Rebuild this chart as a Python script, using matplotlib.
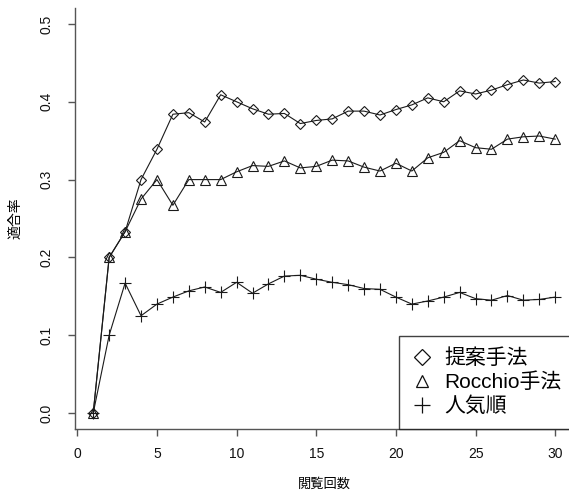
import matplotlib
matplotlib.use("Agg")
import matplotlib.pyplot as plt
from matplotlib.lines import Line2D
import numpy as np

# browsing count on the x axis
views = np.arange(1, 31)

# precision per method
proposed = [0.000, 0.200, 0.233, 0.300, 0.339, 0.384, 0.386, 0.374, 0.409, 0.400,
            0.391, 0.384, 0.385, 0.372, 0.376, 0.378, 0.388, 0.388, 0.383, 0.390,
            0.396, 0.405, 0.400, 0.414, 0.410, 0.415, 0.422, 0.428, 0.424, 0.426]
rocchio = [0.000, 0.200, 0.233, 0.275, 0.300, 0.267, 0.300, 0.300, 0.300, 0.310,
           0.318, 0.317, 0.324, 0.315, 0.317, 0.325, 0.324, 0.316, 0.311, 0.321,
           0.311, 0.328, 0.335, 0.350, 0.341, 0.339, 0.352, 0.355, 0.356, 0.352]
popular = [0.000, 0.100, 0.167, 0.125, 0.140, 0.149, 0.157, 0.162, 0.155, 0.168,
           0.154, 0.166, 0.176, 0.177, 0.172, 0.168, 0.165, 0.160, 0.159, 0.149,
           0.140, 0.144, 0.149, 0.155, 0.147, 0.145, 0.151, 0.145, 0.146, 0.149]

labels = ["提案手法", "Rocchio手法", "人気順"]
markers = ["D", "^", "+"]
x_ticks = [0, 5, 10, 15, 20, 25, 30]
y_ticks = [0.0, 0.1, 0.2, 0.3, 0.4, 0.5]

plt.rcParams["font.family"] = ["Liberation Sans", "Noto Sans CJK JP", "DejaVu Sans"]

W, H = 569, 499
fig = plt.figure(figsize=(W / 100, H / 100), dpi=100, facecolor="white")

# plot region in pixels (right edge runs past the image, as in the reference)
px_left, px_right = 74.75, 573.7
px_top, px_bottom = 8.4, 428.6
ax = fig.add_axes([px_left / W, (H - px_bottom) / H,
                   (px_right - px_left) / W, (px_bottom - px_top) / H])

line_color = "#1a1a1a"
plot_ms = {"D": 5.5, "^": 6.5, "+": 8}
for series, lab, mk in zip([proposed, rocchio, popular], labels, markers):
    ax.plot(views, series, color=line_color, lw=0.8, marker=mk, ms=plot_ms[mk],
            mfc="none", mec=line_color, mew=0.8, label=lab)

ax.set_xlim(-0.16, 31.16)
ax.set_ylim(-0.02, 0.52)
ax.set_xticks(x_ticks)
ax.set_yticks(y_ticks)
ax.set_yticklabels([f"{v:.1f}" for v in y_ticks])

for side in ["top", "right"]:
    ax.spines[side].set_visible(False)
for side in ["left", "bottom"]:
    ax.spines[side].set_color("#555555")
    ax.spines[side].set_linewidth(1.0)

ax.tick_params(axis="both", direction="out", length=5, width=1.0,
               color="#555555", labelsize=10, labelcolor="#111111")
ax.tick_params(axis="x", pad=8)
ax.tick_params(axis="y", pad=10, labelrotation=90)
for t in ax.get_yticklabels():
    t.set_va("center")

ax.set_xlabel("閲覧回数", fontsize=9.5, va="center")
ax.xaxis.set_label_coords(0.5, -(485 - px_bottom) / (px_bottom - px_top))
ax.set_ylabel("適合率", fontsize=10, va="center", ha="center")
ax.yaxis.set_label_coords((15 - px_left) / (px_right - px_left), 0.5)

# legend: markers only, square black frame in the bottom-right corner
legend_ms = {"D": 8, "^": 9, "+": 12}
proxies = [Line2D([], [], ls="none", marker=m, ms=legend_ms[m],
                  mfc="none", mec="#111111", mew=0.9) for m in markers]
leg = ax.legend(proxies, labels, loc="lower right", bbox_to_anchor=(1.0, 0.0),
                borderaxespad=0, fontsize=15, frameon=True, fancybox=False,
                handlelength=1.0, handletextpad=0.55, labelspacing=0.2,
                borderpad=0.6)
leg.get_frame().set_edgecolor("#111111")
leg.get_frame().set_linewidth(1.0)

fig.savefig("out.png", dpi=100, facecolor="white")
